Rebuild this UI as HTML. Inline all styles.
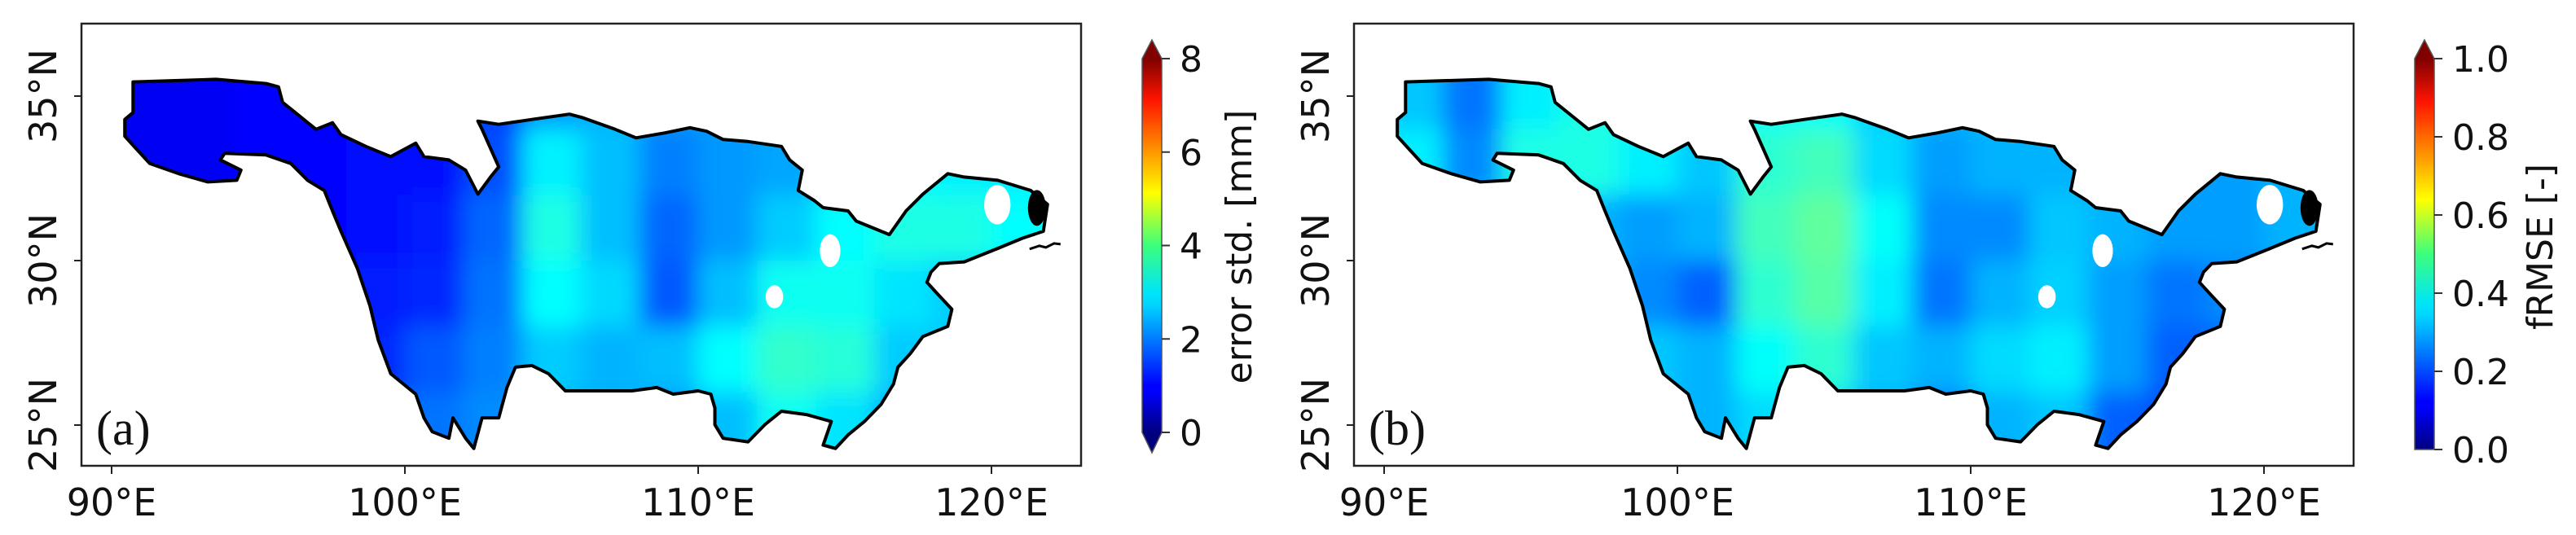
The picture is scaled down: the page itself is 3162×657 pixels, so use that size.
<!DOCTYPE html>
<html><head><meta charset="utf-8">
<style>
html,body{margin:0;padding:0;background:#fff;}
svg{display:block;}
text{font-family:"DejaVu Sans","Liberation Sans",sans-serif;fill:#111;}
</style></head>
<body>
<svg id="fig" width="3162" height="657" viewBox="0 0 3162 657" xmlns="http://www.w3.org/2000/svg">
<defs>
  <filter id="blur" x="-10%" y="-10%" width="120%" height="120%"><feGaussianBlur stdDeviation="14"/></filter>
  <linearGradient id="jet" x1="0" y1="1" x2="0" y2="0">
    <stop offset="0" stop-color="#00007f"/><stop offset="0.11" stop-color="#0000ff"/>
    <stop offset="0.125" stop-color="#0000ff"/><stop offset="0.34" stop-color="#00d4ff"/>
    <stop offset="0.375" stop-color="#00e5f8"/><stop offset="0.5" stop-color="#3bff7c"/>
    <stop offset="0.64" stop-color="#ffff00"/><stop offset="0.89" stop-color="#ff1400"/>
    <stop offset="1" stop-color="#7f0000"/>
  </linearGradient>
</defs>
</svg>
<script>
// ---- data ----
const lonTicks = [90, 100, 110, 120];
const latTicks = [35, 30, 25];
const gridLons = [91,93,95,97,99,101,103,105,107,109,111,113,115,117,119,121];
const gridLats = [35,33,31,29,27,25];
const errStd = [
 [0.9,0.9,1.0,1.0,1.1,1.2,1.5,2.2,2.4,2.2,2.2,2.2,2.2,2.5,2.8,2.8],
 [0.9,0.9,1.0,1.0,1.1,1.1,1.6,2.9,2.5,2.0,2.2,2.3,2.6,3.0,2.9,2.9],
 [1.0,1.0,1.0,1.0,1.1,1.2,1.8,3.2,2.5,1.8,2.2,2.6,3.0,3.2,3.2,3.0],
 [1.0,1.0,1.0,1.0,1.2,1.3,1.9,3.0,2.7,1.7,2.5,3.1,3.1,2.8,2.6,2.6],
 [1.0,1.0,1.0,1.0,1.3,1.7,2.0,2.6,2.4,2.5,3.0,3.4,3.3,2.6,2.6,2.6],
 [1.0,1.0,1.0,1.0,1.5,1.9,2.1,2.4,2.4,2.2,2.5,3.1,2.8,2.4,2.4,2.4]
];
const frmse = [
 [0.32,0.24,0.36,0.40,0.38,0.36,0.38,0.38,0.33,0.30,0.30,0.30,0.30,0.30,0.28,0.28],
 [0.36,0.26,0.40,0.40,0.36,0.32,0.42,0.44,0.34,0.28,0.30,0.30,0.30,0.28,0.28,0.30],
 [0.34,0.34,0.34,0.30,0.28,0.30,0.44,0.47,0.38,0.26,0.26,0.32,0.30,0.28,0.28,0.30],
 [0.34,0.34,0.34,0.32,0.26,0.22,0.42,0.46,0.36,0.24,0.30,0.33,0.28,0.24,0.26,0.26],
 [0.34,0.34,0.34,0.34,0.32,0.30,0.38,0.42,0.32,0.30,0.34,0.36,0.28,0.22,0.22,0.22],
 [0.34,0.34,0.34,0.34,0.32,0.30,0.34,0.34,0.30,0.25,0.30,0.32,0.22,0.20,0.20,0.20]
];
const cbTicksA = [0,2,4,6,8];
const cbTicksB = [0.0,0.2,0.4,0.6,0.8,1.0];
const boundary = [[90.73,35.43],[93.56,35.51],[95.27,35.38],[95.69,35.28],[95.83,34.81],[96.26,34.50],[96.97,33.99],[97.53,34.19],[97.82,33.83],[98.67,33.47],[99.52,33.16],[100.37,33.57],[100.65,33.16],[101.50,33.06],[102.07,32.75],[102.49,32.02],[102.92,32.54],[103.20,32.85],[102.63,33.99],[102.49,34.24],[103.20,34.14],[104.33,34.29],[105.61,34.45],[106.04,34.35],[107.17,33.99],[107.88,33.73],[108.87,33.88],[109.72,34.04],[110.29,33.93],[110.85,33.68],[111.70,33.62],[112.84,33.47],[113.12,33.06],[113.55,32.75],[113.41,32.13],[113.97,31.82],[114.26,31.61],[115.11,31.51],[115.39,31.20],[116.24,30.89],[116.52,30.79],[117.09,31.51],[117.66,32.02],[118.51,32.64],[119.07,32.54],[120.21,32.44],[121.34,32.13],[121.91,31.71],[121.77,30.89],[121.06,30.68],[120.21,30.37],[119.07,29.96],[118.22,29.91],[117.94,29.65],[117.80,29.34],[118.22,28.93],[118.65,28.52],[118.51,28.00],[117.66,27.69],[117.23,27.17],[116.81,26.76],[116.66,26.25],[116.24,25.63],[115.67,25.11],[115.11,24.70],[114.68,24.29],[114.26,24.39],[114.54,25.11],[113.69,25.32],[112.84,25.42],[112.27,25.01],[111.70,24.49],[110.85,24.60],[110.57,25.01],[110.57,25.52],[110.43,25.94],[110.00,26.04],[109.15,25.94],[108.59,26.14],[107.74,26.04],[106.60,26.04],[105.47,26.04],[104.90,26.56],[104.33,26.81],[103.77,26.76],[103.48,26.14],[103.20,25.22],[102.63,25.22],[102.35,24.29],[102.07,24.60],[101.64,25.22],[101.50,24.60],[100.93,24.80],[100.65,25.22],[100.37,25.94],[99.52,26.56],[99.09,27.59],[98.81,28.62],[98.38,29.76],[97.82,30.89],[97.53,31.51],[97.25,32.13],[96.68,32.44],[96.11,32.95],[95.27,33.21],[93.85,33.26],[93.71,33.06],[94.41,32.75],[94.27,32.44],[93.28,32.39],[92.29,32.64],[91.30,32.95],[90.87,33.37],[90.45,33.78],[90.45,34.29],[90.73,34.50]];
const holes = [[114.5,30.3,0.35,0.5],[112.6,28.9,0.3,0.35],[120.2,31.7,0.45,0.6]];

// ---- drawing ----
const NS = "http://www.w3.org/2000/svg";
const svg = document.getElementById('fig');
function mk(tag, attrs, parent){const e=document.createElementNS(NS,tag);for(const k in attrs)e.setAttribute(k,attrs[k]);(parent||svg).appendChild(e);return e;}
function jet(t){t=Math.max(0,Math.min(1,t));const c=v=>Math.round(255*Math.max(0,Math.min(1,v)));return `rgb(${c(1.5-Math.abs(4*t-3))},${c(1.5-Math.abs(4*t-2))},${c(1.5-Math.abs(4*t-1))})`;}

function panel(off, vals, vmax, letter, cbTicks, cbLabel, lowExt, cbFmt){
  const X = lon => off + 137 + (lon-90)*36;
  const Y = lat => 118 + (35-lat)*40.4;
  const g = mk('g',{});
  
  
  const cp = mk('clipPath',{id:'clip'+letter}, svg.querySelector('defs'));
  const pts = boundary.map(p=>X(p[0]).toFixed(1)+','+Y(p[1]).toFixed(1)).join(' ');
  mk('polygon',{points:pts},cp);
  const cg = mk('g',{'clip-path':`url(#clip${letter})`},g);
  const bg = mk('g',{filter:'url(#blur)'},cg);
  gridLats.forEach((lat,i)=>gridLons.forEach((lon,j)=>{
    let x0=X(lon-1), x1=X(lon+1), y0=Y(lat+1), y1=Y(lat-1);
    if(j===0)x0-=110; if(j===gridLons.length-1)x1+=110;
    if(i===0)y0-=110; if(i===gridLats.length-1)y1+=110;
    const r = mk('rect',{x:x0,y:y0,width:x1-x0+0.5,height:y1-y0+0.5,fill:jet(vals[i][j]/vmax)},bg);
    
    
  }));
  holes.forEach(h=>{const e=mk('ellipse',{cx:X(h[0]),cy:Y(h[1]),rx:h[2]*36,ry:h[3]*40.4,fill:'#fff'},cg);
    });
  const lake = mk('ellipse',{cx:X(121.55),cy:Y(31.6),rx:11,ry:22,fill:'#000'},g);
  
  const coast = mk('path',{d:`M${X(121.3)},${Y(30.35)} l12,-4 l8,2 l10,-5 l8,1`,stroke:'#000','stroke-width':3,fill:'none'},g);
  
  const ol = mk('polygon',{points:pts,fill:'none',stroke:'#000','stroke-width':4,'stroke-linejoin':'round'},g);
  
  const fr = mk('rect',{x:off+100,y:29,width:1227,height:543,fill:'none',stroke:'#222','stroke-width':2.5},g);
  
  lonTicks.forEach(l=>{
    mk('line',{x1:X(l),x2:X(l),y1:573,y2:582,stroke:'#222','stroke-width':2},g);
    const t = mk('text',{x:X(l),y:633,'text-anchor':'middle','font-size':46},g);
    t.textContent = l+'°E';
    
  });
  latTicks.forEach(l=>{
    mk('line',{x1:off+91,x2:off+100,y1:Y(l),y2:Y(l),stroke:'#222','stroke-width':2},g);
    const t = mk('text',{x:0,y:0,'text-anchor':'middle','font-size':46,transform:`translate(${off+69},${Y(l)}) rotate(-90)`},g);
    t.textContent = l+'°N';
    
  });
  const lt = mk('text',{x:off+118,y:546,'font-size':60,style:'font-family:"Liberation Serif",serif'},g);
  lt.textContent = '('+letter+')';
  
  const cx0 = off+1402, cw = 24, top = 72, bot = lowExt ? 531 : 552;
  const cb = mk('g',{},g);
  
  mk('rect',{x:cx0,y:top,width:cw,height:bot-top,fill:'url(#jet)'},cb);
  mk('polygon',{points:`${cx0},${top} ${cx0+cw/2},49 ${cx0+cw},${top}`,fill:'#800000'},cb);
  let outline = `${cx0},${top} ${cx0+cw/2},49 ${cx0+cw},${top} ${cx0+cw},${bot} `;
  if(lowExt){
    mk('polygon',{points:`${cx0},${bot} ${cx0+cw/2},556 ${cx0+cw},${bot}`,fill:'#00007f'},cb);
    outline += `${cx0+cw/2},556 ${cx0},${bot}`;
  } else outline += `${cx0},${bot}`;
  mk('polygon',{points:outline,fill:'none',stroke:'#555','stroke-width':1.5},cb);
  const cmax = cbTicks[cbTicks.length-1];
  cbTicks.forEach(v=>{
    const y = bot - (v/cmax)*(bot-top);
    mk('line',{x1:cx0+cw,x2:cx0+cw+10,y1:y,y2:y,stroke:'#333','stroke-width':2},cb);
    const t = mk('text',{x:cx0+cw+22,y:y+16,'font-size':44},cb);
    t.textContent = cbFmt(v);
    
  });
  const lab = mk('text',{x:0,y:0,'text-anchor':'middle','font-size':44,transform:`translate(${cx0+cw+(lowExt?110:145)},303) rotate(-90)`},cb);
  lab.textContent = cbLabel;
  
}
panel(0, errStd, 8, 'a', cbTicksA, 'error std. [mm]', true, v=>String(v));
panel(1562, frmse, 1, 'b', cbTicksB, 'fRMSE [-]', false, v=>v.toFixed(1));
</script>
</body></html>
